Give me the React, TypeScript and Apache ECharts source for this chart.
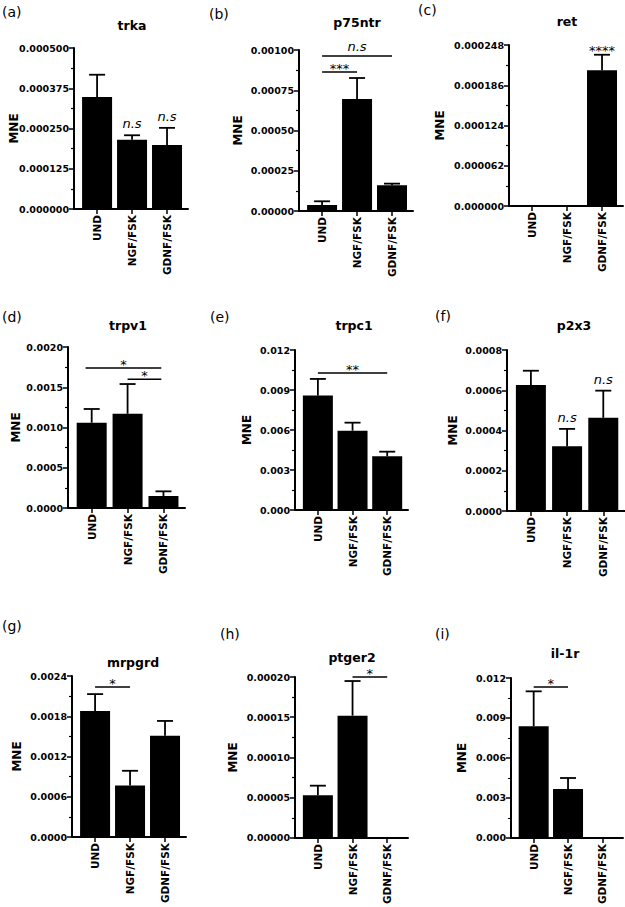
import React, { useEffect, useRef } from 'react';
import * as echarts from 'echarts';

// ---------- data ----------
const categories = ['UND', 'NGF/FSK', 'GDNF/FSK'];
const genes = ['trka', 'p75ntr', 'ret', 'trpv1', 'trpc1', 'p2x3', 'mrpgrd', 'ptger2', 'il-1r'];
const panelLetters = ['(a)', '(b)', '(c)', '(d)', '(e)', '(f)', '(g)', '(h)', '(i)'];

const trkaMean = [0.000348, 0.000215, 0.000199];
const trkaSem = [0.000069, 0.000014, 0.000053];
const p75ntrMean = [0.0000373, 0.000695, 0.00016];
const p75ntrSem = [0.000023, 0.000131, 0.00001];
const retMean = [0, 0, 0.000209];
const retSem = [0, 0, 0.000024];
const trpv1Mean = [0.00106, 0.00117, 0.000149];
const trpv1Sem = [0.00017, 0.00037, 0.000058];
const trpc1Mean = [0.00858, 0.00595, 0.00403];
const trpc1Sem = [0.00125, 0.0006, 0.000345];
const p2x3Mean = [0.000626, 0.000322, 0.000463];
const p2x3Sem = [0.000071, 0.000086, 0.000135];
const mrpgrdMean = [0.00188, 0.000769, 0.00151];
const mrpgrdSem = [0.00025, 0.000218, 0.00022];
const ptger2Mean = [0.000053, 0.000152, 0];
const ptger2Sem = [0.000012, 0.000043, 0];
const il1rMean = [0.00838, 0.00368, 0];
const il1rSem = [0.00262, 0.00082, 0];

const means = [trkaMean, p75ntrMean, retMean, trpv1Mean, trpc1Mean, p2x3Mean, mrpgrdMean, ptger2Mean, il1rMean];
const sems = [trkaSem, p75ntrSem, retSem, trpv1Sem, trpc1Sem, p2x3Sem, mrpgrdSem, ptger2Sem, il1rSem];

// y-axis maxima (4 intervals each) and tick-label decimals
const yMax = [0.0005, 0.001, 0.000248, 0.002, 0.012, 0.0008, 0.0024, 0.0002, 0.012];
const yDecimals = [6, 5, 6, 4, 3, 4, 4, 5, 3];

// significance brackets: panel, from category, to category, height (value), text
const brackets = [
  { panel: 1, from: 0, to: 1, y: 0.000863, text: '***' },
  { panel: 1, from: 0, to: 2, y: 0.000963, text: 'n.s' },
  { panel: 3, from: -0.17, to: 1.94, y: 0.00174, text: '*' },
  { panel: 3, from: 1, to: 1.94, y: 0.0016, text: '*' },
  { panel: 4, from: 0, to: 2, y: 0.01028, text: '**' },
  { panel: 6, from: 0, to: 1, y: 0.002236, text: '*' },
  { panel: 7, from: 1, to: 2, y: 0.0002, text: '*' },
  { panel: 8, from: 0, to: 1, y: 0.01133, text: '*' },
];

// labels above individual bars
const barLabels = [
  { panel: 0, cat: 1, text: 'n.s' },
  { panel: 0, cat: 2, text: 'n.s' },
  { panel: 2, cat: 2, text: '****' },
  { panel: 5, cat: 1, text: 'n.s' },
  { panel: 5, cat: 2, text: 'n.s' },
];

// ---------- layout (pixels) ----------
const layout = [
  { x0: 74, x1: 188, top: 48, zero: 209, gap: 54, title: [132, 25], letter: [2, 12] },
  { x0: 299, x1: 413, top: 50, zero: 211, gap: 55, title: [357, 22], letter: [209, 14] },
  { x0: 509, x1: 623, top: 45, zero: 206, gap: 63, title: [567, 21], letter: [418, 10] },
  { x0: 68, x1: 185, top: 347, zero: 508, gap: 46, title: [128, 325], letter: [2, 317] },
  { x0: 295, x1: 408, top: 350, zero: 510, gap: 42, title: [354, 325], letter: [210, 317] },
  { x0: 507, x1: 625, top: 350, zero: 511, gap: 48, title: [574, 325], letter: [435, 316] },
  { x0: 72, x1: 186, top: 676, zero: 837, gap: 49, title: [133, 662], letter: [2, 626] },
  { x0: 295, x1: 408, top: 677, zero: 838, gap: 56, title: [352, 657], letter: [220, 634] },
  { x0: 511, x1: 623, top: 678, zero: 838, gap: 43, title: [565, 653], letter: [435, 634] },
];

const FONT = "'DejaVu Sans', sans-serif";
const BLACK = '#000';

function textStyleFor(text: string) {
  const isNs = text === 'n.s';
  return {
    text,
    fill: BLACK,
    fontSize: 13,
    fontFamily: FONT,
    fontStyle: isNs ? 'italic' : 'normal',
    fontWeight: 'normal',
    align: 'center',
    verticalAlign: 'middle',
    textAlign: 'center',
    textVerticalAlign: 'middle',
  };
}

function buildOption() {
  const grid: any[] = [];
  const xAxis: any[] = [];
  const yAxis: any[] = [];
  const series: any[] = [];
  const graphic: any[] = [];

  layout.forEach((L, i) => {
    grid.push({ left: L.x0, top: L.top, width: L.x1 - L.x0, height: L.zero - L.top, containLabel: false });
    xAxis.push({
      type: 'value',
      gridIndex: i,
      min: -0.66,
      max: 2.6,
      axisLine: { show: true, onZero: false, lineStyle: { color: BLACK, width: 2 } },
      axisTick: { show: true, customValues: [0, 1, 2], length: 5, lineStyle: { color: BLACK, width: 1.5 } },
      axisLabel: {
        show: true,
        customValues: [0, 1, 2],
        formatter: (v: number) => categories[Math.round(v)] ?? '',
        rotate: 90,
        margin: 6,
        color: BLACK,
        fontWeight: 'bold',
        fontSize: 10.5,
        fontFamily: FONT,
      },
      splitLine: { show: false },
    });
    yAxis.push({
      type: 'value',
      gridIndex: i,
      min: 0,
      max: yMax[i],
      interval: yMax[i] / 4,
      name: 'MNE',
      nameLocation: 'middle',
      nameGap: L.gap,
      nameMoveOverlap: false,
      nameTextStyle: { color: BLACK, fontWeight: 'bold', fontSize: 12, fontFamily: FONT },
      axisLine: { show: true, onZero: false, lineStyle: { color: BLACK, width: 2 } },
      axisTick: { show: true, length: 5, lineStyle: { color: BLACK, width: 1.5 } },
      minorTick: { show: true, splitNumber: 2, length: 3, lineStyle: { color: BLACK, width: 1.2 } },
      axisLabel: {
        formatter: (v: number) => v.toFixed(yDecimals[i]),
        margin: 5,
        color: BLACK,
        fontWeight: 'bold',
        fontSize: 9.5,
        fontFamily: FONT,
      },
      splitLine: { show: false },
      minorSplitLine: { show: false },
    });

    series.push({
      type: 'bar',
      xAxisIndex: i,
      yAxisIndex: i,
      barWidth: 30,
      itemStyle: { color: BLACK },
      data: means[i].map((m, k) => [k, m]),
    });

    const errData = means[i]
      .map((m, k) => (sems[i][k] > 0 ? [k, m, m + sems[i][k]] : null))
      .filter((d) => d !== null);
    series.push({
      type: 'custom',
      xAxisIndex: i,
      yAxisIndex: i,
      encode: { x: 0, y: [1, 2] },
      data: errData,
      renderItem: (params: any, api: any) => {
        const x = api.value(0);
        const p0 = api.coord([x, api.value(1)]);
        const p1 = api.coord([x, api.value(2)]);
        return {
          type: 'group',
          children: [
            { type: 'line', shape: { x1: p0[0], y1: p0[1], x2: p1[0], y2: p1[1] }, style: { stroke: BLACK, lineWidth: 1.8 } },
            { type: 'line', shape: { x1: p1[0] - 8, y1: p1[1], x2: p1[0] + 8, y2: p1[1] }, style: { stroke: BLACK, lineWidth: 1.8 } },
          ],
        };
      },
    });

    const br = brackets.filter((b) => b.panel === i);
    if (br.length) {
      series.push({
        type: 'custom',
        xAxisIndex: i,
        yAxisIndex: i,
        encode: { x: [0, 1], y: 2 },
        clip: false,
        data: br.map((b) => [b.from, b.to, b.y]),
        renderItem: (params: any, api: any) => {
          const b = br[params.dataIndex];
          const p0 = api.coord([api.value(0), api.value(2)]);
          const p1 = api.coord([api.value(1), api.value(2)]);
          const off = b.text === 'n.s' ? 9.5 : 3.5;
          return {
            type: 'group',
            children: [
              { type: 'line', shape: { x1: p0[0], y1: p0[1], x2: p1[0], y2: p1[1] }, style: { stroke: BLACK, lineWidth: 1.6 } },
              { type: 'text', x: (p0[0] + p1[0]) / 2, y: p0[1] - off, style: textStyleFor(b.text) },
            ],
          };
        },
      });
    }

    const bl = barLabels.filter((b) => b.panel === i);
    if (bl.length) {
      series.push({
        type: 'custom',
        xAxisIndex: i,
        yAxisIndex: i,
        encode: { x: 0, y: 1 },
        clip: false,
        data: bl.map((b) => [b.cat, means[i][b.cat] + sems[i][b.cat]]),
        renderItem: (params: any, api: any) => {
          const b = bl[params.dataIndex];
          const p = api.coord([api.value(0), api.value(1)]);
          const off = b.text === 'n.s' ? 11.5 : 4.5;
          return { type: 'text', x: p[0], y: p[1] - off, style: textStyleFor(b.text) };
        },
      });
    }

    graphic.push({
      type: 'text',
      x: L.title[0],
      y: L.title[1],
      style: {
        text: genes[i],
        fill: BLACK,
        fontSize: 12.5,
        fontWeight: 'bold',
        fontFamily: FONT,
        align: 'center',
        verticalAlign: 'middle',
        textAlign: 'center',
        textVerticalAlign: 'middle',
      },
    });
    graphic.push({
      type: 'text',
      x: L.letter[0],
      y: L.letter[1],
      style: {
        text: panelLetters[i],
        fill: BLACK,
        fontSize: 14,
        fontFamily: FONT,
        align: 'left',
        verticalAlign: 'middle',
        textAlign: 'left',
        textVerticalAlign: 'middle',
      },
    });
  });

  return {
    animation: false,
    backgroundColor: '#fff',
    textStyle: { fontFamily: FONT },
    grid,
    xAxis,
    yAxis,
    series,
    graphic,
  };
}

export default function App() {
  const ref = useRef<HTMLDivElement>(null);
  useEffect(() => {
    document.body.style.margin = '0';
    if (!ref.current) return;
    const chart = echarts.init(ref.current, undefined, { renderer: 'svg' });
    chart.setOption(buildOption() as any);
    return () => chart.dispose();
  }, []);
  return <div ref={ref} style={{ width: 625, height: 907, background: '#fff' }} />;
}
